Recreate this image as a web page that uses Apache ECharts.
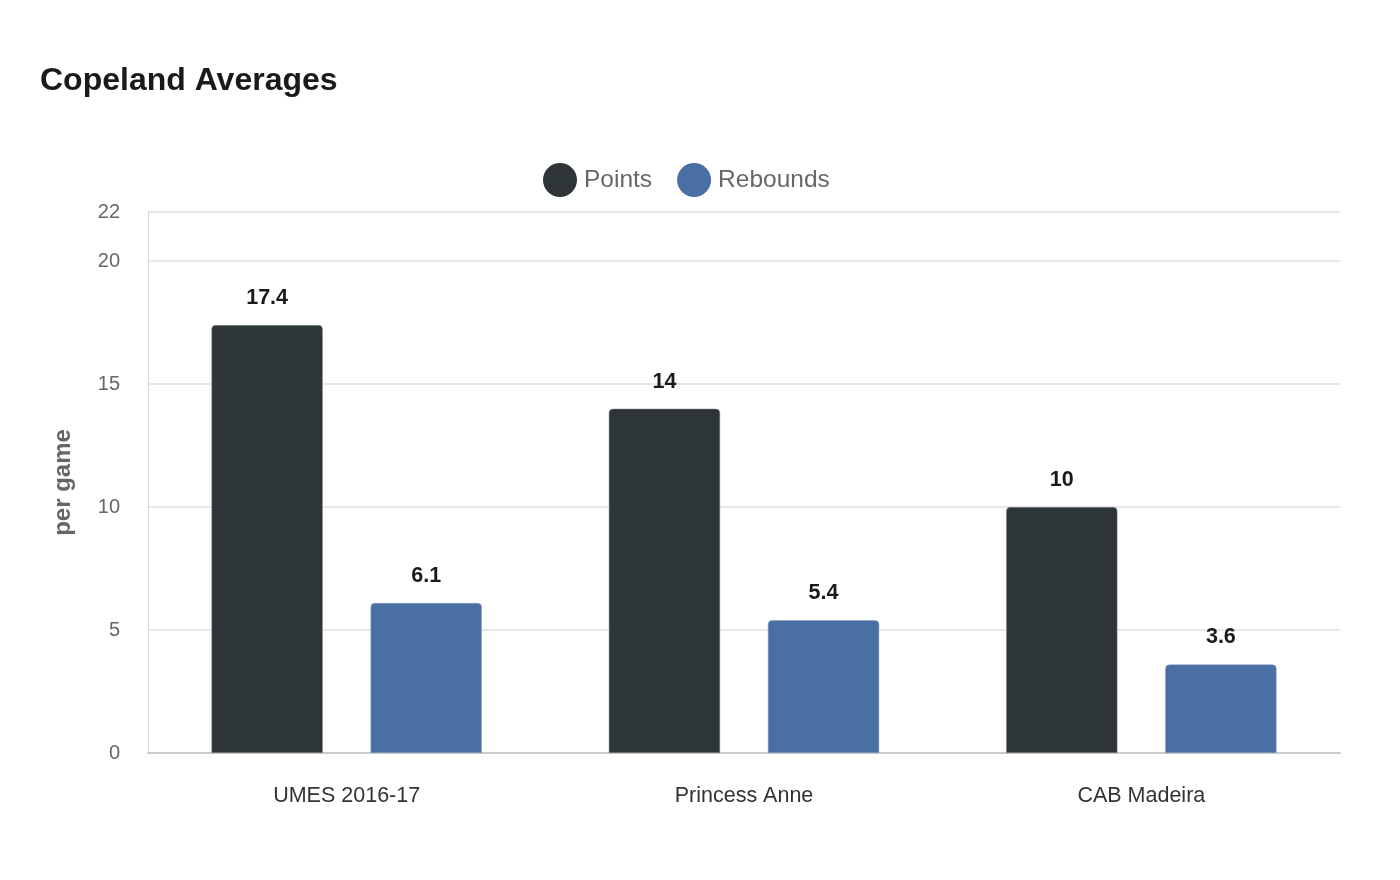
<!DOCTYPE html>
<html>
<head>
<meta charset="utf-8">
<script src="https://cdn.jsdelivr.net/npm/echarts@6/dist/echarts.min.js"></script>
<style>html,body{margin:0;padding:0;background:#fff;}#c{width:1400px;height:880px;}</style>
</head>
<body>
<div id="c"></div>
<script>
const categories = ['UMES 2016-17', 'Princess Anne', 'CAB Madeira'];
const points = [17.4, 14, 10];
const rebounds = [6.1, 5.4, 3.6];
const seriesNames = ['Points', 'Rebounds'];

const chart = echarts.init(document.getElementById('c'), null, {renderer: 'canvas'});
const FONT = '"Liberation Sans", Arial, sans-serif';
const labelStyle = {show: true, position: 'top', distance: 16, fontFamily: FONT, fontSize: 21.5, fontWeight: 'bold', color: '#1a1a1a'};
chart.setOption({
  animation: false,
  textStyle: {fontFamily: FONT},
  title: {text: 'Copeland Averages', left: 35, top: 60, textStyle: {fontFamily: FONT, fontSize: 32, fontWeight: 'bold', color: '#1a1a1a'}},
  legend: {
    data: seriesNames, top: 158, left: 538, icon: 'circle', itemWidth: 34, itemHeight: 34, itemGap: 25,
    itemStyle: {borderWidth: 0},
    textStyle: {fontFamily: FONT, fontSize: 24.5, color: '#666', padding: [0, 0, 0, 2]}
  },
  grid: {left: 148, right: 60, top: 212, bottom: 127, containLabel: false},
  xAxis: {
    type: 'category', data: categories,
    axisLine: {lineStyle: {color: '#cccccc', width: 2}},
    axisTick: {show: false},
    axisLabel: {fontFamily: FONT, fontSize: 21.5, color: '#333', margin: 32}
  },
  yAxis: {
    type: 'value', min: 0, max: 22, interval: 5,
    name: 'per game', nameLocation: 'middle', nameGap: 73, nameRotate: 90,
    nameTextStyle: {fontFamily: FONT, fontSize: 24, fontWeight: 'bold', color: '#666'},
    axisLine: {show: true, lineStyle: {color: '#d0d0d0', width: 1, type: 'dotted'}},
    axisTick: {show: false},
    axisLabel: {fontFamily: FONT, fontSize: 20, color: '#666', margin: 28},
    splitLine: {lineStyle: {color: '#e8e8e8', width: 2}}
  },
  series: [
    {name: seriesNames[0], type: 'bar', data: points, barWidth: '28%', barGap: '43%',
     itemStyle: {color: '#2e3538', borderRadius: [4, 4, 0, 0], borderColor: '#8a9094', borderWidth: 0.5},
     label: labelStyle},
    {name: seriesNames[1], type: 'bar', data: rebounds, barWidth: '28%', barGap: '43%',
     itemStyle: {color: '#4a6fa5', borderRadius: [4, 4, 0, 0], borderColor: '#8aa0c0', borderWidth: 0.5},
     label: labelStyle}
  ]
});
</script>
</body>
</html>
